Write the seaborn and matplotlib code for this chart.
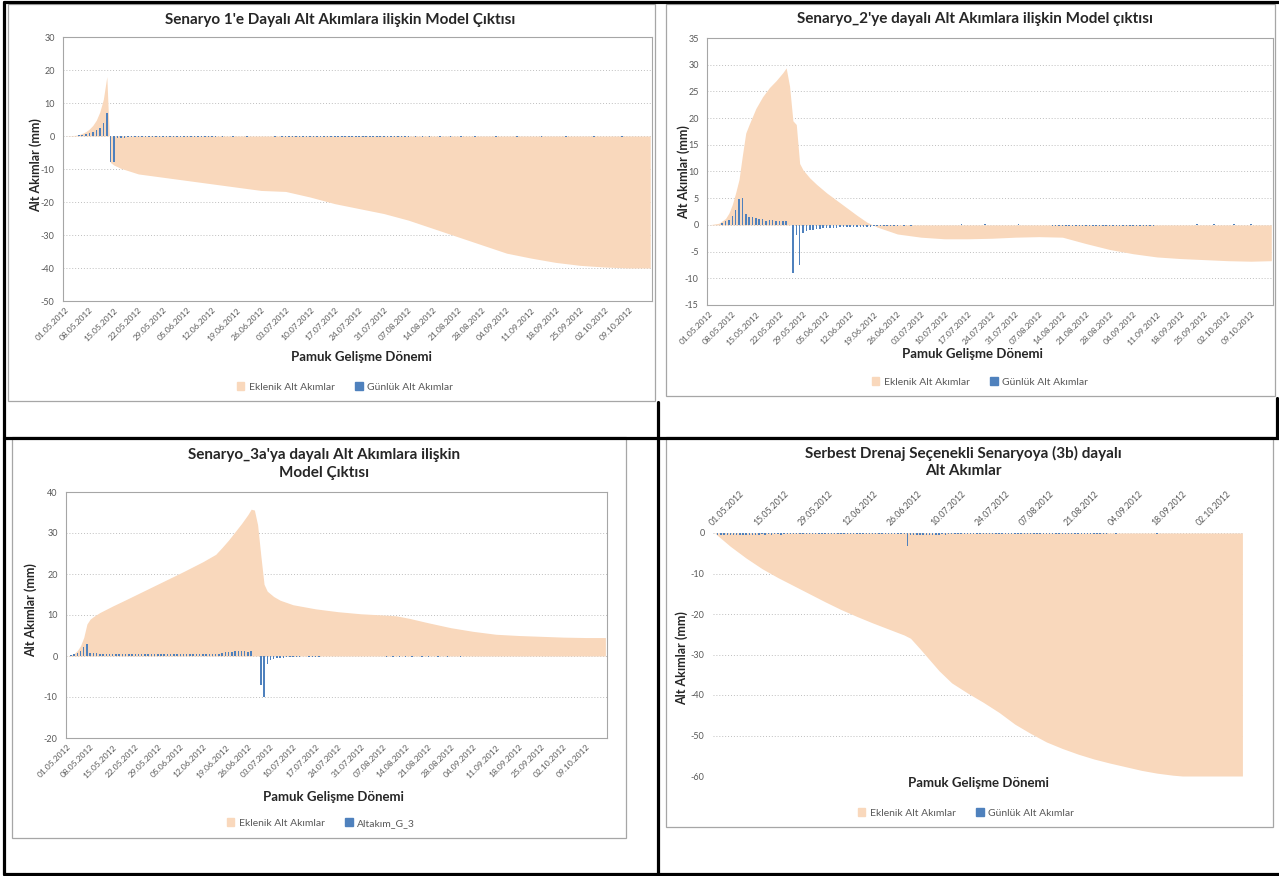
import numpy as np
import pandas as pd
import matplotlib
matplotlib.use("Agg")
import matplotlib.pyplot as plt
from matplotlib.lines import Line2D
from matplotlib.patches import Rectangle, Patch
import seaborn as sns

sns.set_style("white")
plt.rcParams['font.family'] = ['Lato', 'DejaVu Sans']

TEN = '#F9D8BC'
MAVI = '#4F81BD'
GRI = '#595959'
W, H = 1279, 876

# tarih etiketleri (haftalik)
etiketler = ['01.05.2012', '08.05.2012', '15.05.2012', '22.05.2012', '29.05.2012', '05.06.2012',
             '12.06.2012', '19.06.2012', '26.06.2012', '03.07.2012', '10.07.2012', '17.07.2012',
             '24.07.2012', '31.07.2012', '07.08.2012', '14.08.2012', '21.08.2012', '28.08.2012',
             '04.09.2012', '11.09.2012', '18.09.2012', '25.09.2012', '02.10.2012', '09.10.2012']
etiketler_3b = ['01.05.2012', '15.05.2012', '29.05.2012', '12.06.2012', '26.06.2012', '10.07.2012',
                '24.07.2012', '07.08.2012', '21.08.2012', '04.09.2012', '18.09.2012', '02.10.2012']

################ SENARYO 1 ################
# eklenik alt akimlar (gun, mm)
a1_gun = [0, 3, 4, 5, 6, 7, 8, 9, 10, 11, 12, 13, 14, 16, 21, 28, 35, 42, 49, 56, 63, 70, 77,
          84, 91, 98, 105, 112, 119, 126, 133, 140, 147, 154, 161, 167]
a1_deger = [0, 0.2, 0.4, 0.8, 1.3, 2.1, 3.2, 4.8, 7.3, 11.1, 18.0, -8.0, -8.8, -9.8, -11.5, -12.5,
            -13.5, -14.5, -15.5, -16.5, -16.8, -18.5, -20.5, -22.0, -23.5, -25.5, -28.0, -30.5,
            -33.0, -35.5, -37.0, -38.3, -39.2, -39.7, -40.0, -40.0]
# gunluk alt akimlar (01.05 - 15.10)
g1 = [0, 0, 0, 0, 0.2, 0.3, 0.5, 0.8, 1.2, 1.8, 2.5, 3.8, 7.1, -8.0,
      -8.0, -0.6, -0.5, -0.5, -0.4, -0.4, -0.4, -0.3, -0.3, -0.3, -0.3, -0.3, -0.3, -0.3,
      -0.3, -0.3, -0.3, -0.2, -0.2, -0.2, -0.2, -0.2, -0.2, -0.2, -0.2, -0.2, -0.2, -0.2,
      -0.2, -0.2, 0, -0.2, 0, 0, -0.2, 0, 0, 0, -0.2, 0, 0, 0,
      0, 0, 0, 0, -0.2, 0, -0.2, -0.3, -0.3, -0.3, -0.3, -0.3, -0.3, -0.3,
      -0.3, -0.3, -0.3, -0.3, -0.3, -0.3, -0.3, -0.3, -0.3, -0.3, -0.3, -0.3, -0.3, -0.3,
      -0.3, -0.3, -0.3, -0.3, -0.3, -0.3, -0.3, -0.3, -0.2, -0.2, -0.2, -0.2, -0.2, -0.2,
      -0.2, 0, -0.2, 0, -0.2, 0, -0.2, 0, 0, -0.2, 0, 0, -0.2, 0,
      0, -0.2, 0, 0, 0, -0.2, 0, 0, 0, 0, 0, -0.2, 0, 0,
      0, 0, 0, -0.2, 0, 0, 0, 0, 0, 0, -0.2, 0, 0, 0,
      0, 0, 0, -0.2, 0, 0, 0, 0, 0, 0, 0, -0.2, 0, 0,
      0, 0, 0, 0, 0, -0.2, 0, 0, 0, 0, 0, 0, 0, 0]

################ SENARYO 2 ################
a2_gun = [0, 3, 5, 6, 7, 8, 9, 10, 11, 12, 14, 16, 18, 20, 22, 23, 24, 25, 26, 27, 28, 30, 32,
          35, 38, 41, 44, 47, 50, 56, 63, 70, 77, 84, 91, 98, 105, 112, 119, 126, 133, 140, 147,
          154, 161, 167]
a2_deger = [0, 0.3, 1.2, 2.2, 3.8, 6.0, 8.5, 13.0, 17.2, 18.8, 21.8, 24.0, 25.7, 27.0, 28.5, 29.4,
            26.0, 19.5, 18.8, 11.5, 10.3, 8.8, 7.6, 6.0, 4.6, 3.2, 1.8, 0.5, -0.4, -1.7, -2.3,
            -2.6, -2.6, -2.5, -2.3, -2.2, -2.3, -3.5, -4.6, -5.4, -6.0, -6.3, -6.5, -6.7, -6.8, -6.7]
g2 = [0, 0, 0, 0, 0.3, 0.8, 1.0, 1.6, 2.7, 4.8, 5.1, 2.0, 1.5, 1.4,
      1.2, 1.1, 1.1, 0.8, 1.0, 0.9, 0.8, 0.8, 0.8, 0.8, 0, -9.0, -1.8, -7.5,
      -1.5, -1.2, -1.0, -0.9, -0.8, -0.7, -0.6, -0.6, -0.5, -0.5, -0.5, -0.4, -0.4, -0.4,
      -0.4, -0.3, -0.3, -0.3, -0.3, -0.3, -0.3, -0.2, -0.2, -0.2, -0.2, -0.2, -0.2, -0.2,
      -0.2, 0, -0.2, 0, -0.2, 0, 0, 0, 0, 0, 0, 0, 0, 0,
      0, 0, 0, 0, 0, 0.2, 0, 0, 0, 0, 0, 0, 0.2, 0,
      0, 0, 0, 0, 0, 0, 0, 0, 0.2, 0, 0, 0, 0, 0,
      0, 0, 0, 0, -0.2, -0.2, -0.2, -0.2, -0.2, -0.2, -0.2, -0.2, -0.2, -0.2,
      -0.2, -0.2, -0.2, -0.2, -0.2, -0.2, -0.2, -0.2, -0.2, -0.2, -0.2, -0.2, -0.2, -0.2,
      -0.2, -0.2, -0.2, -0.2, -0.2, -0.2, -0.2, 0, 0, 0, 0, 0, 0, 0,
      0, 0, 0, 0, 0, 0.2, 0, 0, 0, 0, 0.2, 0, 0, 0,
      0, 0, 0.2, 0, 0, 0, 0, 0.2, 0, 0, 0, 0, 0, 0]

################ SENARYO 3a ################
a3_gun = [0, 1, 2, 3, 4, 5, 6, 7, 8, 10, 14, 18, 24, 30, 36, 42, 46, 48, 50, 52, 54, 56, 57, 58,
          59, 60, 61, 62, 64, 66, 70, 77, 84, 91, 98, 102, 106, 112, 119, 126, 133, 140, 147,
          154, 161, 167]
a3_deger = [0, 0.2, 0.6, 1.3, 2.5, 4.5, 7.8, 9.0, 9.6, 10.6, 12.2, 13.7, 16.0, 18.3, 20.6, 23.0,
            24.8, 26.5, 28.3, 30.3, 32.3, 34.5, 35.8, 35.6, 32.0, 24.5, 17.5, 15.8, 14.5, 13.6,
            12.5, 11.5, 10.8, 10.3, 10.0, 9.8, 9.2, 8.1, 6.9, 6.0, 5.3, 5.0, 4.8, 4.6, 4.5, 4.5]
g3 = [0, 0.2, 0.4, 0.8, 1.3, 2.1, 2.9, 0.8, 0.7, 0.7, 0.6, 0.6, 0.6, 0.5,
      0.5, 0.5, 0.5, 0.4, 0.5, 0.5, 0.4, 0.5, 0.4, 0.5, 0.5, 0.4, 0.5, 0.4,
      0.4, 0.5, 0.4, 0.4, 0.5, 0.4, 0.4, 0.5, 0.4, 0.4, 0.4, 0.5, 0.4, 0.4,
      0.4, 0.5, 0.5, 0.4, 0.5, 0.5, 0.8, 0.9, 1.0, 1.0, 1.1, 1.1, 1.1, 1.2,
      0.9, 1.2, 0, 0, -7.0, -10.0, -2.0, -1.0, -0.7, -0.6, -0.5, -0.4, -0.3, -0.3,
      -0.2, -0.2, -0.2, 0, 0, -0.2, -0.2, -0.2, -0.2, 0, 0, 0, 0, 0,
      0, 0, 0, 0, 0, 0, 0, 0, 0, 0, 0, 0, 0, 0,
      0, -0.2, 0, -0.2, 0, -0.2, 0, -0.2, 0, -0.2, 0, 0, -0.2, 0,
      -0.2, 0, 0, -0.2, 0, 0, -0.2, 0, 0, 0, -0.2, 0, 0, 0,
      0, 0, 0, 0, 0, 0, 0, 0, 0, 0, 0, 0, 0, 0,
      0, 0, 0, 0, 0, 0, 0, 0, 0, 0, 0, 0, 0, 0,
      0, 0, 0, 0, 0, 0, 0, 0, 0, 0, 0, 0, 0, 0]

################ SENARYO 3b (serbest drenaj) ################
a4_gun = [0, 5, 10, 15, 20, 25, 30, 35, 40, 45, 50, 55, 60, 62, 65, 68, 71, 75, 80, 85, 90, 95,
          100, 105, 110, 115, 120, 125, 130, 135, 140, 145, 148, 167]
a4_deger = [0, -3.3, -6.2, -8.8, -11.0, -13.0, -15.0, -17.0, -18.9, -20.6, -22.2, -23.7, -25.2,
            -26.0, -28.6, -31.3, -34.0, -37.0, -39.5, -41.8, -44.3, -47.2, -49.5, -51.6, -53.2,
            -54.6, -55.8, -56.8, -57.7, -58.6, -59.3, -59.8, -60.0, -60.0]
g4 = [0, -0.4, -0.5, -0.4, -0.5, -0.4, -0.4, -0.5, -0.4, -0.4, -0.5, -0.4, -0.4, -0.4,
      -0.4, -0.3, -0.4, -0.3, -0.4, -0.3, -0.3, -0.4, -0.3, -0.3, -0.3, -0.3, -0.3, -0.3,
      -0.3, -0.3, -0.3, -0.3, -0.3, -0.3, -0.3, -0.3, -0.3, -0.3, -0.3, -0.3, -0.3, -0.3,
      -0.3, -0.3, -0.2, -0.3, -0.2, -0.3, -0.2, -0.3, -0.2, -0.3, -0.2, -0.2, -0.3, -0.2,
      -0.2, -0.2, -0.2, -0.2, -0.2, -3.2, -0.4, -0.5, -0.5, -0.4, -0.4, -0.4, -0.4, -0.4,
      -0.4, -0.4, -0.3, -0.4, -0.3, -0.3, -0.3, -0.3, -0.3, -0.3, -0.3, -0.3, -0.3, -0.3,
      -0.3, -0.3, -0.3, -0.3, -0.3, -0.2, -0.3, -0.2, -0.3, -0.2, -0.3, -0.2, -0.2, -0.2,
      -0.2, -0.2, -0.2, -0.2, -0.2, -0.2, -0.2, -0.2, -0.2, -0.2, -0.2, -0.2, -0.2, -0.2,
      -0.2, -0.2, -0.2, -0.2, -0.2, -0.2, -0.2, -0.2, -0.2, -0.2, -0.2, -0.2, -0.2, 0,
      0, -0.3, 0, 0, 0, 0, 0, 0, 0, 0, 0, 0, 0, 0,
      -0.3, 0, 0, 0, 0, 0, 0, 0, 0, 0, 0, 0, 0, 0,
      0, 0, 0, 0, 0, 0, 0, 0, 0, 0, 0, 0, 0, 0]


def fx(px):
    return px / W


def fy(py):
    return 1 - py / H


def eksen(fig, x0, y0, x1, y1):
    # piksel kutusundan eksen olustur
    return fig.add_axes([fx(x0), fy(y1), (x1 - x0) / W, (y1 - y0) / H])


def panel_ciz(ax, alan_gun, alan_deger, gunluk, ymin, ymax, adim, kutu=True):
    ax.fill_between(alan_gun, alan_deger, 0, color=TEN, lw=0, zorder=1)
    df = pd.DataFrame({'gun': np.arange(len(gunluk)), 'akim': gunluk})
    sns.barplot(data=df, x='gun', y='akim', native_scale=True, color=MAVI, saturation=1,
                width=0.45, errorbar=None, linewidth=0, ax=ax, zorder=2)
    ax.set_xlim(-0.5, len(gunluk) - 0.5)
    ax.set_ylim(ymin, ymax)
    ax.set_yticks(np.arange(ymin, ymax + adim, adim))
    ax.set_yticklabels([str(v) for v in np.arange(ymin, ymax + adim, adim)], fontsize=6.5, color=GRI)
    ax.yaxis.grid(True, ls=(0, (1, 2)), color='#BFBFBF', lw=0.7)
    ax.xaxis.grid(False)
    ax.set_axisbelow(True)
    ax.set_xlabel('')
    ax.set_ylabel('')
    ax.tick_params(axis='both', length=0)
    ax.tick_params(axis='y', pad=6)
    for s in ax.spines.values():
        s.set_visible(kutu)
        s.set_color('#A6A6A6')
        s.set_linewidth(0.8)


fig = plt.figure(figsize=(W / 100, H / 100), dpi=100)
fig.patch.set_facecolor('white')

# tablo cizgileri
siyah = dict(color='black', lw=2.3, transform=fig.transFigure)
fig.add_artist(Line2D([fx(4), fx(1279)], [fy(2), fy(2)], **siyah))
fig.add_artist(Line2D([fx(4), fx(4)], [fy(2), fy(874)], **siyah))
fig.add_artist(Line2D([fx(4), fx(1279)], [fy(438), fy(438)], **siyah))
fig.add_artist(Line2D([fx(658), fx(658)], [fy(402), fy(874)], **siyah))
fig.add_artist(Line2D([fx(4), fx(1279)], [fy(874), fy(874)], **siyah))
fig.add_artist(Line2D([fx(1277), fx(1277)], [fy(398), fy(438)], **siyah))

# grafik cerceveleri
for (x0, y0, x1, y1) in [(8, 4, 655, 401), (666, 4, 1275, 396), (12, 437, 626, 838), (666, 437, 1273, 827)]:
    fig.add_artist(Rectangle((fx(x0), fy(y1)), (x1 - x0) / W, (y1 - y0) / H, transform=fig.transFigure,
                             fill=False, ec='#A6A6A6', lw=0.9))

paneller = [
    dict(kutu=(63, 37, 652, 301), a=(a1_gun, a1_deger), g=g1, y=(-50, 30, 10),
         baslik="Senaryo 1'e Dayalı Alt Akımlara ilişkin Model Çıktısı", bpos=(340, 20),
         xl=(361, 357), yl=(36, 165), lg=(345, 387), seri2='Günlük Alt Akımlar'),
    dict(kutu=(707, 38, 1273, 305), a=(a2_gun, a2_deger), g=g2, y=(-15, 35, 5),
         baslik="Senaryo_2'ye dayalı Alt Akımlara ilişkin Model çıktısı", bpos=(975, 19),
         xl=(972, 354), yl=(684, 172), lg=(980, 382), seri2='Günlük Alt Akımlar'),
    dict(kutu=(66, 492, 607, 738), a=(a3_gun, a3_deger), g=g3, y=(-20, 40, 10),
         baslik="Senaryo_3a'ya dayalı Alt Akımlara ilişkin\nModel Çıktısı", bpos=(324, 464),
         xl=(333, 797), yl=(31, 610), lg=(321, 823), seri2='Altakım_G_3'),
    dict(kutu=(713, 533, 1244, 776), a=(a4_gun, a4_deger), g=g4, y=(-60, 0, 10),
         baslik="Serbest Drenaj Seçenekli Senaryoya (3b) dayalı\nAlt Akımlar", bpos=(963, 462),
         xl=(978, 783), yl=(682, 658), lg=(966, 813), seri2='Günlük Alt Akımlar'),
]

for i, p in enumerate(paneller):
    ax = eksen(fig, *p['kutu'])
    ust = (i == 3)
    panel_ciz(ax, p['a'][0], p['a'][1], p['g'], *p['y'], kutu=not ust)
    if not ust:
        ax.set_xticks(np.arange(len(etiketler)) * 7)
        ax.set_xticklabels(etiketler, rotation=45, ha='right', rotation_mode='anchor',
                           fontsize=6.1, color=GRI)
        ax.tick_params(axis='x', pad=4)
    else:
        ax.xaxis.tick_top()
        ax.set_xticks(np.arange(len(etiketler_3b)) * 14)
        ax.set_xticklabels(etiketler_3b, rotation=45, ha='left', rotation_mode='anchor',
                           fontsize=6.3, color=GRI)
        ax.tick_params(axis='x', pad=4)

    fig.text(fx(p['bpos'][0]), fy(p['bpos'][1]), p['baslik'], ha='center', va='center',
             fontsize=11, fontweight='bold', color='#262626', linespacing=1.3)
    fig.text(fx(p['xl'][0]), fy(p['xl'][1]), 'Pamuk Gelişme Dönemi', ha='center', va='center',
             fontsize=9.5, fontweight='bold', color='#262626')
    fig.text(fx(p['yl'][0]), fy(p['yl'][1]), 'Alt Akımlar (mm)', ha='center', va='center',
             rotation=90, fontsize=9, fontweight='bold', color='#262626')
    tut = [Patch(color=TEN, label='Eklenik Alt Akımlar'), Patch(color=MAVI, label=p['seri2'])]
    fig.legend(handles=tut, loc='center', bbox_to_anchor=(fx(p['lg'][0]), fy(p['lg'][1])),
               ncol=2, frameon=False, fontsize=7.5, labelcolor=GRI, handlelength=0.7,
               handleheight=0.7, handletextpad=0.4, columnspacing=2.0)

plt.savefig('out.png', dpi=100)
